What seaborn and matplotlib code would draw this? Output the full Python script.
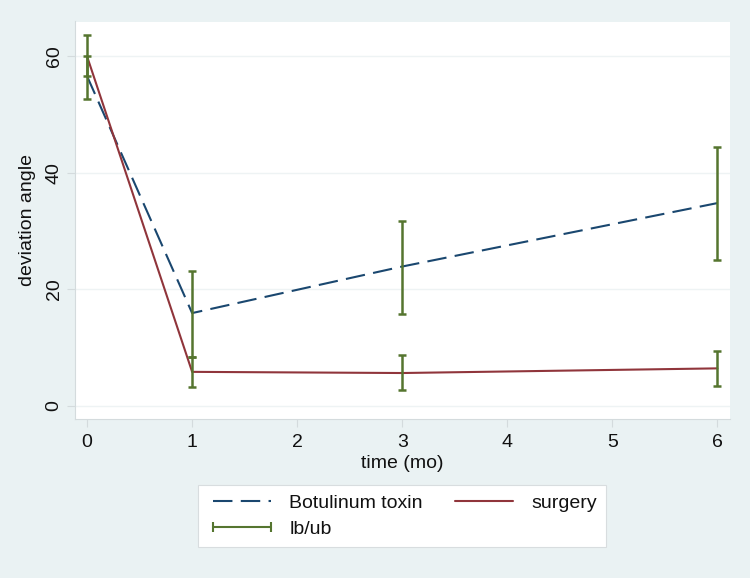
import matplotlib
matplotlib.use("Agg")
import matplotlib.pyplot as plt
import seaborn as sns
import pandas as pd
import numpy as np
from matplotlib.lines import Line2D

# data
time = [0, 1, 3, 6]
botox = [56.6, 15.9, 23.9, 34.8]
surgery = [60.0, 5.8, 5.6, 6.4]
botox_lb = [52.6, 8.3, 15.8, 25.1]
botox_ub = [60.0, 23.2, 31.8, 44.4]
surg_lb = [56.7, 3.2, 2.6, 3.4]
surg_ub = [63.6, 8.3, 8.7, 9.3]
xticks = [0, 1, 2, 3, 4, 5, 6]
yticks = [0, 20, 40, 60]

BG = "#EAF2F3"
NAVY = "#1A476F"
MAROON = "#90353B"
GREEN = "#55752F"
GRID = "#EEF3F4"
AXC = "#D4DBDD"
FS = 14

sns.set_theme(style="white")
plt.rcParams["font.family"] = ["Liberation Sans", "DejaVu Sans"]

fig = plt.figure(figsize=(7.5, 5.78), dpi=100, facecolor=BG)
ax = fig.add_axes([75/750, 1-419/578, (730-75)/750, (419-21.5)/578])
ax.set_facecolor("white")

df = pd.DataFrame({"time": time + time,
                   "angle": botox + surgery,
                   "group": ["Botulinum toxin"] * 4 + ["surgery"] * 4})

for y in yticks:
    ax.axhline(y, color=GRID, lw=1.0, zorder=0)

lw = 1.5
dash = (0, (14.0/lw, 6.0/lw))
sns.lineplot(data=df[df.group == "Botulinum toxin"], x="time", y="angle", ax=ax,
             color=NAVY, lw=lw, linestyle=dash, legend=False, zorder=3)
sns.lineplot(data=df[df.group == "surgery"], x="time", y="angle", ax=ax,
             color=MAROON, lw=lw, legend=False, zorder=3)

for lb, ub in [(botox_lb, botox_ub), (surg_lb, surg_ub)]:
    lb = np.array(lb); ub = np.array(ub)
    mid = (lb + ub) / 2
    ax.errorbar(time, mid, yerr=[mid - lb, ub - mid], fmt="none", ecolor=GREEN,
                elinewidth=1.8, capsize=3.0, capthick=1.8, zorder=4)

ax.set_xlim(-0.115, 6.12)
ax.set_ylim(-2.3, 66.0)
ax.set_xticks(xticks)
ax.set_yticks(yticks)
ax.set_yticklabels([str(v) for v in yticks], rotation=90, va="center")
ax.tick_params(axis="both", which="both", length=6, width=0.8, color=AXC,
               labelsize=FS, labelcolor="#111111", direction="out",
               left=True, bottom=True)
ax.tick_params(axis="y", pad=3)
ax.tick_params(axis="x", pad=5)
for s in ["top", "right"]:
    ax.spines[s].set_visible(False)
for s in ["left", "bottom"]:
    ax.spines[s].set_color(AXC)
    ax.spines[s].set_linewidth(0.8)

ax.set_xlabel("time (mo)", fontsize=FS, color="#111111", labelpad=3)
ax.set_ylabel("deviation angle", fontsize=FS, color="#111111", labelpad=7)

h_botox = Line2D([], [], color=NAVY, lw=lw, linestyle=dash)
h_surg = Line2D([], [], color=MAROON, lw=lw)
h_ci = Line2D([], [], color=GREEN, lw=1.5, marker="|", markersize=7, mew=1.5)
handles = [h_botox, h_ci, h_surg]
labels = ["Botulinum toxin", "lb/ub", "surgery"]
leg = fig.legend(handles, labels, ncol=2, loc="center",
                 bbox_to_anchor=(402/750, 1-516/578), fontsize=FS,
                 frameon=True, fancybox=False, edgecolor="#D8DDDF",
                 facecolor="white", framealpha=1, handlelength=3.6,
                 handletextpad=0.65, columnspacing=1.35, labelspacing=0.45,
                 borderpad=0.45, borderaxespad=0, numpoints=2)
leg.get_frame().set_linewidth(0.8)
for t in leg.get_texts():
    t.set_color("#111111")

fig.savefig("out.png", dpi=100, facecolor=BG)
